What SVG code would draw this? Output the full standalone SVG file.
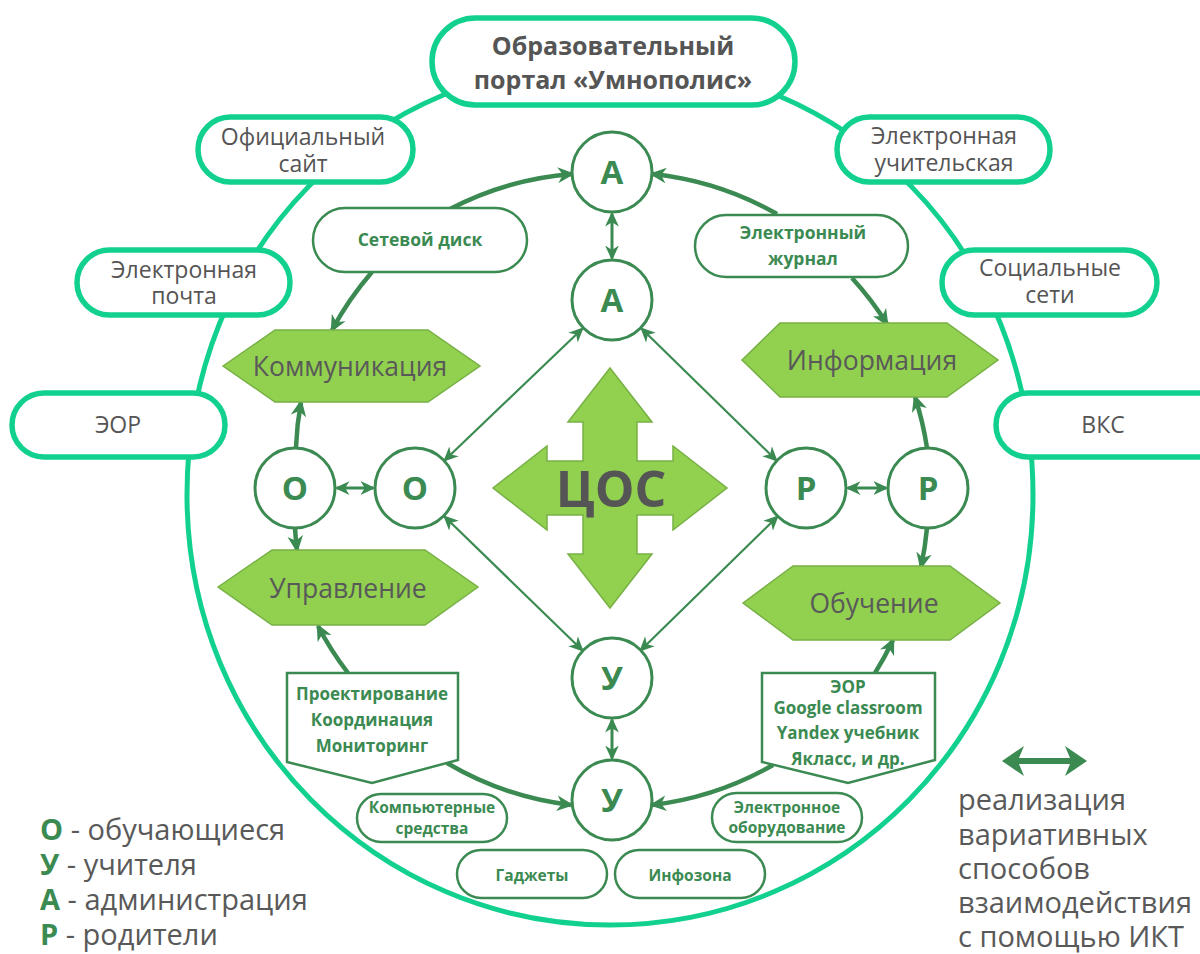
<svg xmlns="http://www.w3.org/2000/svg" width="1200" height="954" viewBox="0 0 1200 954">
<defs>
<style>
.outer{fill:#fff;stroke:#12d18e;stroke-width:5.5}
.ot{font-family:"Open Sans","Liberation Sans",sans-serif;font-size:23px;fill:#555;text-anchor:middle}
.pt{font-family:"Open Sans","Liberation Sans",sans-serif;font-size:25px;font-weight:bold;fill:#555;text-anchor:middle}
.inner{fill:#fff;stroke:#3b8a52;stroke-width:2.5}
.it{font-family:"Open Sans","Liberation Sans",sans-serif;font-size:15.5px;font-weight:bold;fill:#3b8a52;text-anchor:middle}
.it2{font-family:"Open Sans","Liberation Sans",sans-serif;font-size:17.5px;font-weight:bold;fill:#3b8a52;text-anchor:middle}
.bt{font-family:"Open Sans","Liberation Sans",sans-serif;font-size:17px;font-weight:bold;fill:#3b8a52;text-anchor:middle}
.hex{fill:#92d050;stroke:#77b045;stroke-width:1.5}
.ht{font-family:"Open Sans","Liberation Sans",sans-serif;font-size:26.5px;fill:#595959;text-anchor:middle}
.circ{fill:#fff;stroke:#3b8a52;stroke-width:3}
.ct{font-family:"Open Sans","Liberation Sans",sans-serif;font-size:33px;font-weight:bold;fill:#3b8a52;text-anchor:middle}
.ring{fill:none;stroke:#3b8a52;stroke-width:4.5;marker-end:url(#ah)}
.thin{fill:none;stroke:#3b8a52;stroke-width:2.2;marker-start:url(#as);marker-end:url(#as)}
.dbl{fill:none;stroke:#3b8a52;stroke-width:3;marker-start:url(#as);marker-end:url(#as)}
.lg{font-family:"Open Sans","Liberation Sans",sans-serif;font-size:29px;fill:#595959}
.lgb{font-weight:bold;fill:#3b8a52}
</style>
<marker id="ah" viewBox="0 0 12 12" refX="10" refY="6" markerWidth="17" markerHeight="17" markerUnits="userSpaceOnUse" orient="auto-start-reverse">
<path d="M0,0.5 L12,6 L0,11.5 L3.5,6 Z" fill="#3b8a52"/>
</marker>
<marker id="as" viewBox="0 0 12 12" refX="10" refY="6" markerWidth="15" markerHeight="15" markerUnits="userSpaceOnUse" orient="auto-start-reverse">
<path d="M0,0.5 L12,6 L0,11.5 L3.5,6 Z" fill="#3b8a52"/>
</marker>
</defs>
<rect width="1200" height="954" fill="#fff"/>

<g id="big-ring">
<path d="M187,495 C187,250 370,62 610,62 C850,62 1033,250 1033,495 C1033,735 843,925 610,925 C377,925 187,735 187,495 Z" fill="none" stroke="#12d18e" stroke-width="5"/>
</g>

<g id="connectors">
<path class="ring" d="M450,209 A318,318 0 0 1 572,174"/>
<path class="ring" d="M372,272 A318,318 0 0 0 332,330"/>
<path class="ring" d="M296,447 A318,318 0 0 1 301,402"/>
<path class="ring" d="M295,528 A318,318 0 0 0 297,550"/>
<path class="ring" d="M348,673 A318,318 0 0 1 318,626"/>
<path class="ring" d="M447,763 A318,318 0 0 0 571,805"/>
<path class="ring" d="M773,765 A318,318 0 0 1 652,805"/>
<path class="ring" d="M875,673 A318,318 0 0 0 893,640"/>
<path class="ring" d="M927,528 A318,318 0 0 1 921,567"/>
<path class="ring" d="M927,448 A318,318 0 0 0 915,397"/>
<path class="ring" d="M852,278 A318,318 0 0 1 887,324"/>
<path class="ring" d="M777,214 A318,318 0 0 0 652,174"/>
<path class="dbl" d="M612,214 L612,258"/>
<path class="dbl" d="M337,488 L373,488"/>
<path class="dbl" d="M848,488 L886,488"/>
<path class="dbl" d="M612,720 L612,758"/>
<path class="thin" d="M582,329 L445,460"/>
<path class="thin" d="M642,329 L776,460"/>
<path class="thin" d="M445,517 L582,650"/>
<path class="thin" d="M777,517 L641,650"/>
</g>

<g id="portal"><rect class="outer" x="432" y="18" width="363" height="87" rx="43.5" stroke-width="6"/>
<text class="pt" x="613" y="55">Образовательный</text><text class="pt" x="613" y="89">портал «Умнополис»</text></g>
<g id="site"><rect class="outer" x="198" y="117" width="215" height="65" rx="32.5"/>
<text class="ot" x="303" y="145">Официальный</text><text class="ot" x="303" y="172">сайт</text></g>
<g id="mail"><rect class="outer" x="77" y="250" width="213" height="65" rx="32.5"/>
<text class="ot" x="184" y="278">Электронная</text><text class="ot" x="184" y="304">почта</text></g>
<g id="eor-outer"><rect class="outer" x="12" y="393" width="213" height="64" rx="32"/>
<text class="ot" x="118" y="433">ЭОР</text></g>
<g id="teacher"><rect class="outer" x="837" y="117" width="213" height="65" rx="32.5"/>
<text class="ot" x="944" y="144">Электронная</text><text class="ot" x="944" y="171">учительская</text></g>
<g id="social"><rect class="outer" x="942" y="250" width="215" height="65" rx="32.5"/>
<text class="ot" x="1050" y="276">Социальные</text><text class="ot" x="1050" y="303">сети</text></g>
<g id="vks"><rect class="outer" x="996" y="393" width="240" height="64" rx="32"/>
<text class="ot" x="1103" y="433">ВКС</text></g>

<g id="net-disk"><rect class="inner" x="313" y="208" width="214" height="64" rx="32"/>
<text class="it2" x="420" y="246">Сетевой диск</text></g>
<g id="journal"><rect class="inner" x="695" y="215" width="213" height="62" rx="31"/>
<text class="it2" x="803" y="239">Электронный</text><text class="it2" x="803" y="265">журнал</text></g>
<g id="computers"><rect class="inner" x="357" y="794" width="150" height="48" rx="24"/>
<text class="it" x="432" y="813">Компьютерные</text><text class="it" x="432" y="834">средства</text></g>
<g id="gadgets"><rect class="inner" x="457" y="850" width="150" height="48" rx="24"/>
<text class="it" x="532" y="881">Гаджеты</text></g>
<g id="infozone"><rect class="inner" x="615" y="850" width="150" height="48" rx="24"/>
<text class="it" x="690" y="881">Инфозона</text></g>
<g id="equipment"><rect class="inner" x="712" y="793" width="150" height="49" rx="24.5"/>
<text class="it" x="787" y="813">Электронное</text><text class="it" x="787" y="833">оборудование</text></g>

<g id="design"><polygon class="inner" points="287,673 458,673 458,760 372,783 287,762"/>
<text class="bt" x="372" y="700">Проектирование</text><text class="bt" x="372" y="726">Координация</text><text class="bt" x="372" y="752">Мониторинг</text></g>
<g id="eor-box"><polygon class="inner" points="762,673 935,673 935,760 848,783 762,762"/>
<text class="bt" x="848" y="693">ЭОР</text><text class="bt" x="848" y="714">Google classroom</text><text class="bt" x="848" y="739">Yandex учебник</text><text class="bt" x="848" y="765">Якласс, и др.</text></g>

<g id="communication"><polygon class="hex" points="223,366 275,330 428,330 480,366 428,402 275,402"/>
<text class="ht" x="350" y="376">Коммуникация</text></g>
<g id="information"><polygon class="hex" points="742,360 780,323 947,323 998,360 947,397 780,397"/>
<text class="ht" x="872" y="370">Информация</text></g>
<g id="management"><polygon class="hex" points="218,587 272,550 425,550 478,587 425,625 272,625"/>
<text class="ht" x="348" y="598">Управление</text></g>
<g id="learning"><polygon class="hex" points="743,603 793,566 950,566 1000,603 950,640 793,640"/>
<text class="ht" x="874" y="613">Обучение</text></g>

<g id="cos"><polygon class="hex" points="610,368 652,422 637,422 637,461 673,461 673,446 727,488 673,530 673,515 637,515 637,554 652,554 610,608 568,554 583,554 583,515 547,515 547,530 493,488 547,446 547,461 583,461 583,422 568,422"/>
<text x="611" y="507" font-family="Open Sans, Liberation Sans, sans-serif" font-size="50" font-weight="bold" fill="#555" text-anchor="middle">ЦОС</text></g>

<g id="a-top"><circle class="circ" cx="612" cy="172" r="40"/><text class="ct" x="612" y="184">А</text></g>
<g id="a-inner"><circle class="circ" cx="612" cy="300" r="40"/><text class="ct" x="612" y="312">А</text></g>
<g id="o-left"><circle class="circ" cx="295" cy="488" r="40"/><text class="ct" x="295" y="500">О</text></g>
<g id="o-inner"><circle class="circ" cx="415" cy="488" r="40"/><text class="ct" x="415" y="500">О</text></g>
<g id="r-inner"><circle class="circ" cx="806" cy="488" r="40"/><text class="ct" x="806" y="500">Р</text></g>
<g id="r-right"><circle class="circ" cx="928" cy="488" r="40"/><text class="ct" x="928" y="500">Р</text></g>
<g id="u-inner"><circle class="circ" cx="612" cy="678" r="40"/><text class="ct" x="612" y="690">У</text></g>
<g id="u-bottom"><circle class="circ" cx="612" cy="800" r="40"/><text class="ct" x="612" y="812">У</text></g>

<g id="legend-left">
<text class="lg" x="40" y="840"><tspan class="lgb">О</tspan> - обучающиеся</text>
<text class="lg" x="40" y="875"><tspan class="lgb">У</tspan> - учителя</text>
<text class="lg" x="40" y="910"><tspan class="lgb">А</tspan> - администрация</text>
<text class="lg" x="40" y="945"><tspan class="lgb">Р</tspan> - родители</text>
</g>
<g id="legend-right">
<polygon points="1002,761 1024,746 1019,758 1070,758 1065,746 1087,761 1065,776 1070,764 1019,764 1024,776" fill="#3b8a52"/>
<text class="lg" x="958" y="810">реализация</text>
<text class="lg" x="958" y="845">вариативных</text>
<text class="lg" x="958" y="879">способов</text>
<text class="lg" x="958" y="913">взаимодействия</text>
<text class="lg" x="958" y="947">с помощью ИКТ</text>
</g>
</svg>
